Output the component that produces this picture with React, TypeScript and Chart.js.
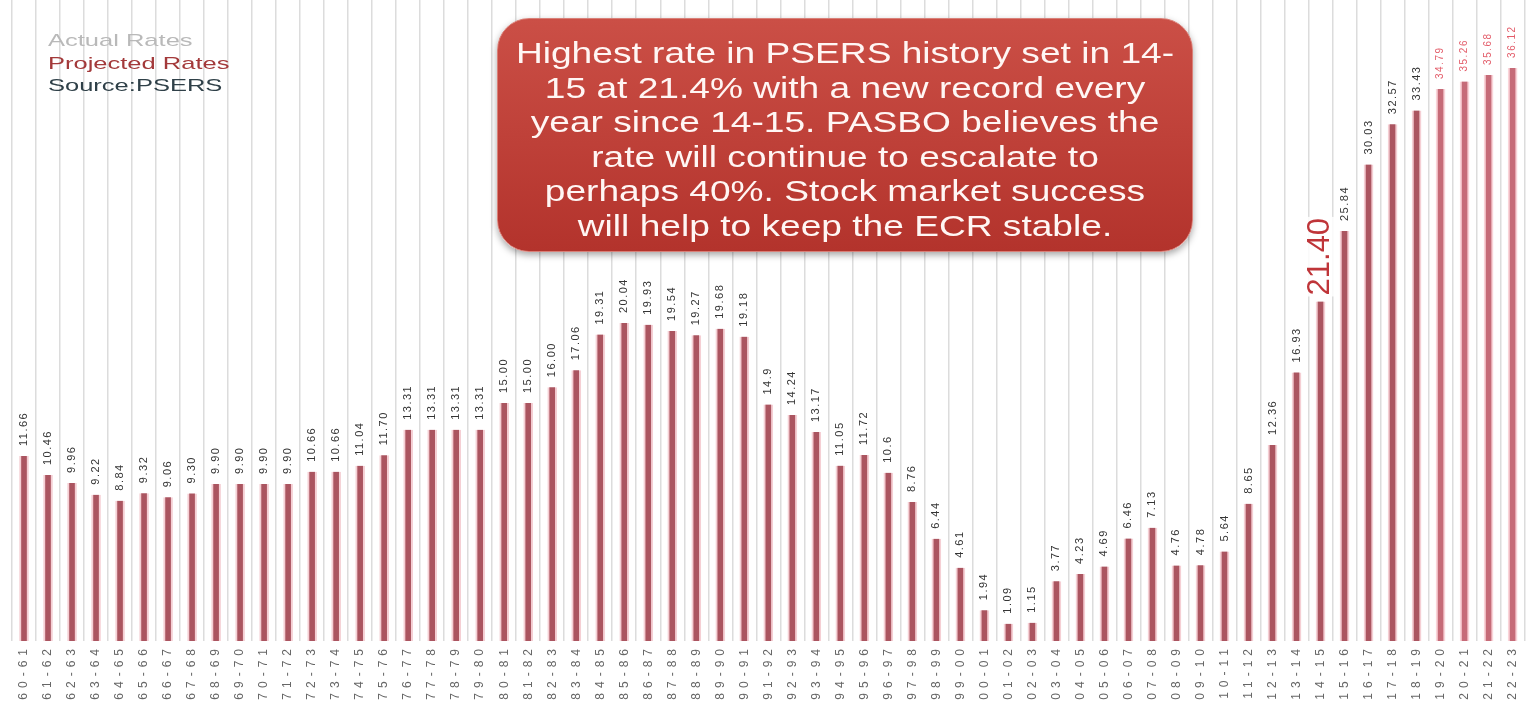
import React, { useEffect, useRef } from 'react';
import { Chart, registerables } from 'chart.js';

Chart.register(...registerables);

const categories = [
  '60-61', '61-62', '62-63', '63-64', '64-65', '65-66', '66-67', '67-68', '68-69', '69-70',
  '70-71', '71-72', '72-73', '73-74', '74-75', '75-76', '76-77', '77-78', '78-79', '79-80',
  '80-81', '81-82', '82-83', '83-84', '84-85', '85-86', '86-87', '87-88', '88-89', '89-90',
  '90-91', '91-92', '92-93', '93-94', '94-95', '95-96', '96-97', '97-98', '98-99', '99-00',
  '00-01', '01-02', '02-03', '03-04', '04-05', '05-06', '06-07', '07-08', '08-09', '09-10',
  '10-11', '11-12', '12-13', '13-14', '14-15', '15-16', '16-17', '17-18', '18-19', '19-20',
  '20-21', '21-22', '22-23',
];

const actualRates = [
  11.66, 10.46, 9.96, 9.22, 8.84, 9.32, 9.06, 9.30, 9.90, 9.90,
  9.90, 9.90, 10.66, 10.66, 11.04, 11.70, 13.31, 13.31, 13.31, 13.31,
  15.00, 15.00, 16.00, 17.06, 19.31, 20.04, 19.93, 19.54, 19.27, 19.68,
  19.18, 14.9, 14.24, 13.17, 11.05, 11.72, 10.6, 8.76, 6.44, 4.61,
  1.94, 1.09, 1.15, 3.77, 4.23, 4.69, 6.46, 7.13, 4.76, 4.78,
  5.64, 8.65, 12.36, 16.93, 21.40, 25.84, 30.03, 32.57, 33.43,
];

const projectedRates = [34.79, 35.26, 35.68, 36.12];

const oneDecimalLabels = ['91-92', '96-97'];
const highlightCategory = '14-15';

const legendLines = [
  { text: 'Actual Rates', color: '#b9b9b9' },
  { text: 'Projected Rates', color: '#a3393a' },
  { text: 'Source:PSERS', color: '#2f4048' },
];

const calloutLines = [
  'Highest rate in PSERS history set in 14-',
  '15 at 21.4% with a new record every',
  'year since 14-15. PASBO believes the',
  'rate will continue to escalate to',
  'perhaps 40%. Stock market success',
  'will help to keep the ECR stable.',
];

export default function App() {
  const canvasRef = useRef<HTMLCanvasElement>(null);

  useEffect(() => {
    const canvas = canvasRef.current;
    if (!canvas) return;
    const nA = actualRates.length;
    const actualData = categories.map((_, i) => (i < nA ? actualRates[i] : null));
    const projectedData = categories.map((_, i) => (i >= nA ? projectedRates[i - nA] : null));

    const valueLabelPlugin = {
      id: 'valueLabels',
      beforeDraw(chart: any) {
        chart.ctx.letterSpacing = '5px';
      },
      beforeDatasetsDraw(chart: any) {
        chart.ctx.letterSpacing = '0px';
      },
      afterDatasetsDraw(chart: any) {
        const ctx = chart.ctx;
        chart.data.datasets.forEach((ds: any, di: number) => {
          const meta = chart.getDatasetMeta(di);
          meta.data.forEach((bar: any, i: number) => {
            const v = ds.data[i];
            if (v == null) return;
            const cat = categories[i];
            const text = oneDecimalLabels.includes(cat) ? v.toFixed(1) : v.toFixed(2);
            let size = 11;
            let color = '#353535';
            let gap = 10;
            let spacing = '1.5px';
            if (cat === highlightCategory) {
              size = 31; color = '#bf3539'; gap = 6; spacing = '0px';
            } else if (di === 1) {
              size = 10; color = '#e35d6a'; gap = 10; spacing = '1.5px';
            }
            ctx.save();
            ctx.font = `${size}px "Liberation Sans", Arial, sans-serif`;
            ctx.letterSpacing = spacing;
            const w = ctx.measureText(text).width;
            ctx.translate(bar.x, bar.y - gap);
            ctx.rotate(-Math.PI / 2);
            ctx.fillStyle = 'rgba(255,255,255,0.85)';
            ctx.fillRect(-1, -size * 0.45, w + 2, size * 0.9);
            ctx.fillStyle = color;
            ctx.textAlign = 'left';
            ctx.textBaseline = 'middle';
            ctx.fillText(text, 0, 0);
            ctx.restore();
          });
        });
      },
    };

    const chart = new Chart(canvas, {
      type: 'bar',
      data: {
        labels: categories,
        datasets: [
          {
            label: 'Actual Rates',
            data: actualData,
            backgroundColor: '#ab5560',
            borderColor: 'rgba(236,160,170,0.5)',
            borderWidth: { left: 2, right: 2, top: 0, bottom: 0 },
            barThickness: 9,
            grouped: false,
          },
          {
            label: 'Projected Rates',
            data: projectedData,
            backgroundColor: '#c66b78',
            borderColor: 'rgba(245,170,180,0.5)',
            borderWidth: { left: 2, right: 2, top: 0, bottom: 0 },
            barThickness: 9,
            grouped: false,
          },
        ],
      },
      options: {
        animation: false,
        responsive: true,
        maintainAspectRatio: false,
        layout: { padding: { left: 12, right: 0, top: 0, bottom: 0 } },
        plugins: {
          legend: { display: false },
          tooltip: { enabled: false },
        },
        scales: {
          x: {
            grid: { offset: true, color: '#dcdcdc', lineWidth: 1.5, drawTicks: false },
            border: { display: false },
            ticks: {
              autoSkip: false,
              minRotation: 90,
              maxRotation: 90,
              padding: 3,
              color: '#666666',
              font: { family: '"Liberation Sans", Arial, sans-serif', size: 12 },
            },
            afterFit: (scale: any) => {
              scale.height = 68;
            },
          },
          y: {
            display: false,
            min: 0,
            max: 40.4,
          },
        },
      },
      plugins: [valueLabelPlugin],
    } as any);

    return () => chart.destroy();
  }, []);

  return (
    <div style={{ position: 'fixed', left: 0, top: 0, width: 1530, height: 709, background: '#ffffff', overflow: 'hidden' }}>
      <div style={{ position: 'absolute', left: 0, top: 0, width: 1530, height: 709 }}>
        <canvas ref={canvasRef} />
      </div>
      <div style={{ position: 'absolute', left: 48, top: 30, fontFamily: '"Liberation Sans", Arial, sans-serif' }}>
        {legendLines.map((l) => (
          <div
            key={l.text}
            style={{
              fontSize: 17,
              lineHeight: '22.5px',
              color: l.color,
              whiteSpace: 'nowrap',
              transform: 'scaleX(1.5)',
              transformOrigin: 'left center',
            }}
          >
            {l.text}
          </div>
        ))}
      </div>
      <div
        style={{
          position: 'absolute',
          left: 497,
          top: 18,
          width: 696,
          height: 234,
          boxSizing: 'border-box',
          borderRadius: 32,
          background: 'linear-gradient(#cb4f46, #b3332c)',
          border: '1px solid #d98078',
          boxShadow: '0 3px 7px rgba(0,0,0,0.35)',
          paddingTop: 17,
          fontFamily: '"Liberation Sans", Arial, sans-serif',
          color: '#fff6f4',
        }}
      >
        {calloutLines.map((t) => (
          <div
            key={t}
            style={{
              fontSize: 29,
              lineHeight: '34.6px',
              textAlign: 'center',
              whiteSpace: 'nowrap',
              transform: 'scaleX(1.28)',
              transformOrigin: 'center center',
            }}
          >
            {t}
          </div>
        ))}
      </div>
    </div>
  );
}
